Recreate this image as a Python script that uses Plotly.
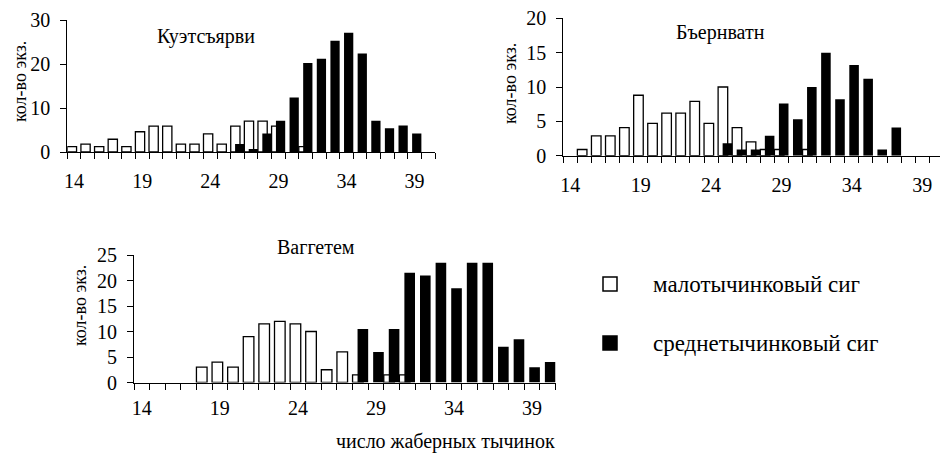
import plotly.graph_objects as go

categories = list(range(14, 41))
tick_labels = [14, 19, 24, 29, 34, 39]

# Куэтсъярви
kuet_low = [1.2, 1.8, 1.2, 2.9, 1.2, 4.6, 5.9, 5.9, 1.8, 1.8, 4.1, 1.8, 5.9, 7.0, 7.0, 5.9, None, 1.2,
            None, None, None, None, None, None, None, None, None]
kuet_mid = [None, None, None, None, None, None, None, None, None, None, None, None, 1.8, 0.7, 4.2, 7.1, 12.4, 20.2,
            21.2, 25.3, 27.1, 22.4, 7.1, 5.4, 6.0, 4.2, None]
# Бъернватн
bjern_low = [None, 0.9, 2.9, 2.9, 4.1, 8.8, 4.7, 6.2, 6.2, 7.9, 4.7, 10.0, 4.1, 2.0, 0.9, 0.9, None, 0.9,
             None, None, None, None, None, None, None, None, None]
bjern_mid = [None, None, None, None, None, None, None, None, None, None, None, 1.8, 0.9, 0.9, 2.9, 7.6, 5.3, 10.0,
             15.0, 8.2, 13.2, 11.2, 0.9, 4.1, None, None, None]
# Ваггетем
vagg_low = [None, None, None, None, 3.0, 4.0, 3.0, 9.0, 11.5, 12.0, 11.5, 10.0, 2.5, 6.0, 1.5, None, 1.5, 1.5,
            None, None, None, None, None, None, None, None, None]
vagg_mid = [None, None, None, None, None, None, None, None, None, None, None, None, None, None, 10.5, 6.0, 10.5, 21.5,
            21.0, 23.5, 18.5, 23.5, 23.5, 7.0, 8.5, 3.0, 4.0]

panels = [
    ("Куэтсъярви", kuet_low, kuet_mid, [0, 10, 20, 30], 30),
    ("Бъернватн", bjern_low, bjern_mid, [0, 5, 10, 15, 20], 20),
    ("Ваггетем", vagg_low, vagg_mid, [0, 5, 10, 15, 20, 25], 25),
]

# the page body has an 8px margin: figure is placed at (8, 8) in the window
OFF = 8
W, H = 940, 448


def px(x):
    return (x - OFF) / W


def py(y):
    return 1 - (y - OFF) / H


# pixel boxes in window coordinates: (x0, x1, y_top, y_bottom)
boxes = [(67.3, 435.0, 20.0, 152.0), (563.3, 943.3, 18.3, 155.7), (134.0, 555.5, 255.0, 382.5)]
standoffs = [11, 11, 7]
FONT = "Liberation Serif, Times New Roman, serif"

fig = go.Figure()
for i, (name, low, mid, yt, ymax) in enumerate(panels):
    n = "" if i == 0 else str(i + 1)
    fig.add_trace(go.Bar(x=categories, y=low, xaxis="x" + n, yaxis="y" + n,
                         marker=dict(color="white", line=dict(color="black", width=1.3)),
                         offset=-0.5, width=0.68, showlegend=False))
    fig.add_trace(go.Bar(x=categories, y=mid, xaxis="x" + n, yaxis="y" + n,
                         marker=dict(color="black", line=dict(color="black", width=0)),
                         offset=-0.18, width=0.68, showlegend=False))
    x0, x1, yt0, yb = boxes[i]
    xd = [px(x0), px(x1)]
    yd = [py(yb), py(yt0)]
    fig.update_layout(**{
        "xaxis" + n: dict(domain=xd, anchor="y" + n, range=[13.5, 40.5], tickmode="array",
                          tickvals=tick_labels, ticks="", ticklen=0, showline=True, linecolor="black",
                          linewidth=1, showgrid=False, zeroline=False, ticklabelstandoff=standoffs[i],
                          automargin=False, ticklabeloverflow="allow",
                          tickfont=dict(family=FONT, size=20, color="black"),
                          minor=dict(ticks="outside", tickmode="linear", tick0=13.5, dtick=1, ticklen=6,
                                     tickcolor="black", tickwidth=1, showgrid=False)),
        "yaxis" + n: dict(domain=yd, anchor="x" + n, range=[0, ymax], tickmode="array", tickvals=yt,
                          ticks="outside", ticklen=6, tickcolor="black", showline=True, linecolor="black",
                          linewidth=1, showgrid=False, zeroline=False, ticklabelstandoff=6, automargin=False,
                          ticklabeloverflow="allow",
                          tickfont=dict(family=FONT, size=20, color="black")),
    })
    # panel title
    title_pos = [(206, 36), (720, 33), (316, 247)][i]
    fig.add_annotation(text=name, x=px(title_pos[0]), y=py(title_pos[1]), xref="paper", yref="paper",
                       xanchor="center", yanchor="middle", showarrow=False,
                       font=dict(family=FONT, size=20, color="black"))
    ylab_pos = [(20, 82), (510, 84), (80, 306)][i]
    fig.add_annotation(text="кол-во экз.", x=px(ylab_pos[0]), y=py(ylab_pos[1]), xref="paper", yref="paper",
                       xanchor="center", yanchor="middle", showarrow=False, textangle=-90,
                       font=dict(family=FONT, size=18, color="black"))

fig.add_annotation(text="число жаберных тычинок", x=px(557), y=py(441), xref="paper", yref="paper",
                   xanchor="right", yanchor="middle", showarrow=False,
                   font=dict(family=FONT, size=20, color="black"))

# legend
legend_items = [("малотычинковый сиг", "white", 284), ("среднетычинковый сиг", "black", 343)]
for label, col, yc in legend_items:
    fig.add_shape(type="rect", xref="paper", yref="paper", x0=px(603), x1=px(617),
                  y0=py(yc + 7), y1=py(yc - 7), fillcolor=col,
                  line=dict(color="black", width=1.5))
    fig.add_annotation(text=label, x=px(651), y=py(yc), xref="paper", yref="paper", xanchor="left",
                       yanchor="middle", showarrow=False, font=dict(family=FONT, size=23, color="black"))

fig.update_layout(width=W, height=H, margin=dict(l=0, r=0, t=0, b=0), barmode="overlay",
                  plot_bgcolor="white", paper_bgcolor="white", showlegend=False,
                  font=dict(family=FONT, color="black"))
fig.write_html("out.html")
